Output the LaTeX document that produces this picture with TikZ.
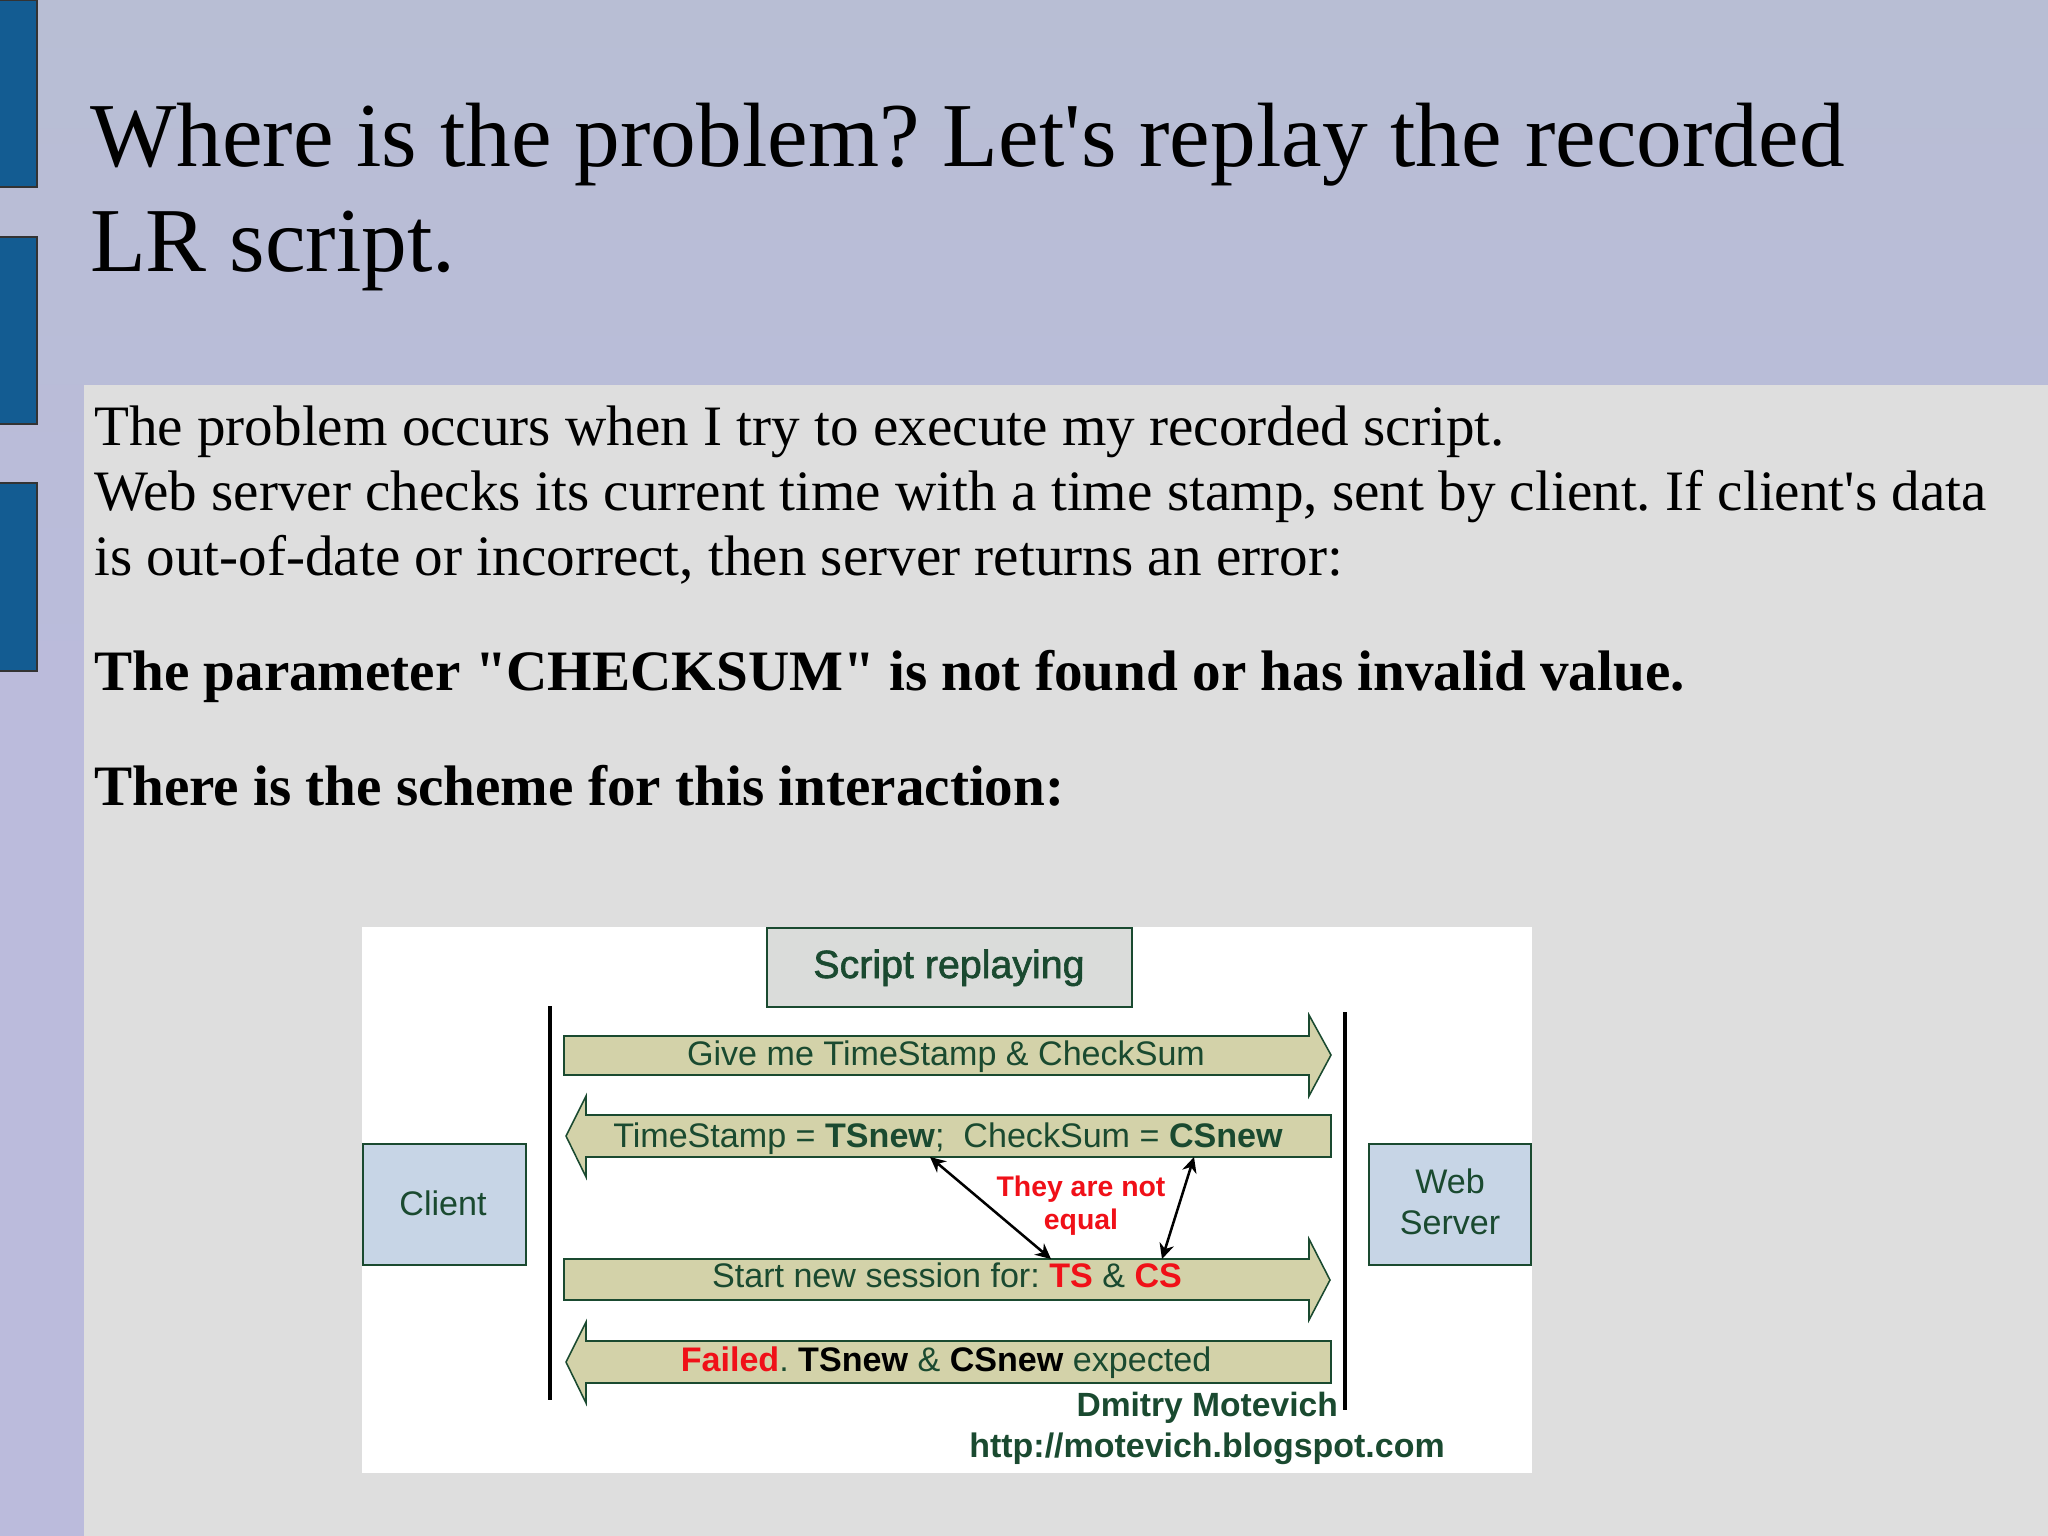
\documentclass[tikz,border=0pt]{standalone}
\usepackage{fontspec}
\setmainfont{Liberation Serif}[Ligatures=TeXOff]
\setsansfont{Liberation Sans}
\newfontfamily\headingfont{Liberation Sans}[FakeBold=1.6]
\usetikzlibrary{arrows.meta}
\definecolor{slidetop}{HTML}{B8BED4}
\definecolor{slidelow}{HTML}{BBBBDC}
\definecolor{panelgrey}{HTML}{DEDEDE}
\definecolor{barblue}{HTML}{135C92}
\definecolor{darkgreen}{HTML}{1A4A30}
\definecolor{khaki}{HTML}{D3D2A9}
\definecolor{paleblue}{HTML}{C7D5E6}
\definecolor{palegrey}{HTML}{DADCDA}
\definecolor{redtext}{HTML}{F01018}
\tikzset{
  linetext/.style={anchor=base west,inner sep=0pt,text=black},
  sidebar/.style={fill=barblue,draw=black!80,line width=1.5pt},
  bararrow/.style={fill=khaki,draw=darkgreen,line width=2.2pt},
  sidebox/.style={fill=paleblue,draw=darkgreen,line width=1.5pt},
  arrowtext/.style={anchor=base,inner sep=0pt,text=darkgreen,font=\sffamily\fontsize{48.5}{48.5}\selectfont},
  lifeline/.style={line width=5.5pt,black},
  unequal/.style={line width=3.6pt,black,{Stealth[length=22pt,width=21pt]}-{Stealth[length=22pt,width=21pt]}}
}
\begin{document}
\frenchspacing
\begin{tikzpicture}[x=0.05cm,y=-0.05cm]
\useasboundingbox (0,0) rectangle (2048,1536);

%Slide
\shade[top color=slidetop,bottom color=slidelow,middle color=slidelow] (0,0) rectangle (2048,1536);
\fill[panelgrey] (84,385) rectangle (2048,1536);
\draw[sidebar] (-4,0) rectangle (37,187);
\draw[sidebar] (-4,237) rectangle (37,424);
\draw[sidebar] (-4,483) rectangle (37,671);

\node[linetext,font=\fontsize{130}{130}\selectfont] (titleone) at (90,167) {Where is the problem? Let's replay the recorded};
\node[linetext,font=\fontsize{130}{130}\selectfont] (titletwo) at (90,272) {LR script.};
\node[linetext,font=\fontsize{81.3}{81.3}\selectfont] (bodyone) at (94,445) {The problem occurs when I try to execute my recorded script.};
\node[linetext,font=\fontsize{81.3}{81.3}\selectfont] (bodytwo) at (94,510) {Web server checks its current time with a time stamp, sent by client. If client's data};
\node[linetext,font=\fontsize{81.3}{81.3}\selectfont] (bodythree) at (94,575) {is out-of-date or incorrect, then server returns an error:};
\node[linetext,font=\bfseries\fontsize{81.3}{81.3}\selectfont] (errortext) at (94,690) {The parameter "CHECKSUM" is not found or has invalid value.};
\node[linetext,font=\bfseries\fontsize{81.3}{81.3}\selectfont] (schemetext) at (94,805) {There is the scheme for this interaction:};

%Scheme
\fill[white] (362,927) rectangle (1532,1473);
\draw[fill=palegrey,draw=darkgreen,line width=2pt] (767,928) rectangle (1132,1007);
\node[arrowtext,font=\headingfont\fontsize{56}{56}\selectfont] (heading) at (949,978) {Script replaying};

\draw[sidebox] (363,1144) rectangle (526,1265);
\draw[sidebox] (1369,1144) rectangle (1531,1265);
\node[arrowtext] (client) at (443,1215) {Client};
\node[arrowtext] (webword) at (1450,1193) {Web};
\node[arrowtext] (serverword) at (1450,1234) {Server};

\coordinate (clienttop) at (550,1006);
\coordinate (clientend) at (550,1400);
\coordinate (servertop) at (1345,1012);
\coordinate (serverend) at (1345,1410);
\draw[lifeline] (clienttop) -- (clientend);
\draw[lifeline] (servertop) -- (serverend);

\draw[bararrow] (564,1036) -- (1309,1036) -- (1309,1015) -- (1331,1055) -- (1309,1096) -- (1309,1075) -- (564,1075) -- cycle;
\draw[bararrow] (1331,1115) -- (586,1115) -- (586,1096) -- (566,1136) -- (586,1177) -- (586,1157) -- (1331,1157) -- cycle;
\draw[bararrow] (564,1259) -- (1309,1259) -- (1309,1239) -- (1330,1280) -- (1309,1320) -- (1309,1300) -- (564,1300) -- cycle;
\draw[bararrow] (1331,1341) -- (586,1341) -- (586,1322) -- (566,1362) -- (586,1403) -- (586,1383) -- (1331,1383) -- cycle;

\node[arrowtext] (askline) at (946,1065) {Give me TimeStamp \& CheckSum};
\node[arrowtext] (replyline) at (948,1147) {TimeStamp = \textbf{TSnew};\ \ CheckSum = \textbf{CSnew}};
\node[arrowtext] (startline) at (947,1287) {Start new session for: \textbf{\textcolor{redtext}{TS}} \& \textbf{\textcolor{redtext}{CS}}};
\node[arrowtext] (failline) at (946,1371) {\textbf{\textcolor{redtext}{Failed}}. \textbf{\textcolor{black}{TSnew}} \& \textbf{\textcolor{black}{CSnew}} expected};

\coordinate (tsnew) at (930,1157);
\coordinate (csnew) at (1194,1157);
\coordinate (tsold) at (1051,1259);
\coordinate (csold) at (1162,1259);
\draw[unequal] (tsnew) -- (tsold);
\draw[unequal] (csnew) -- (csold);
\node[arrowtext,text=redtext,font=\sffamily\bfseries\fontsize{40.4}{40.4}\selectfont] (notword) at (1081,1196) {They are not};
\node[arrowtext,text=redtext,font=\sffamily\bfseries\fontsize{40.4}{40.4}\selectfont] (equalword) at (1081,1229) {equal};

\node[arrowtext,font=\sffamily\bfseries\fontsize{47.8}{47.8}\selectfont,anchor=base east] (authorname) at (1338,1416) {Dmitry Motevich};
\node[arrowtext,font=\sffamily\bfseries\fontsize{48.3}{48.3}\selectfont] (authorurl) at (1207,1457) {http://motevich.blogspot.com};
\end{tikzpicture}
\end{document}
